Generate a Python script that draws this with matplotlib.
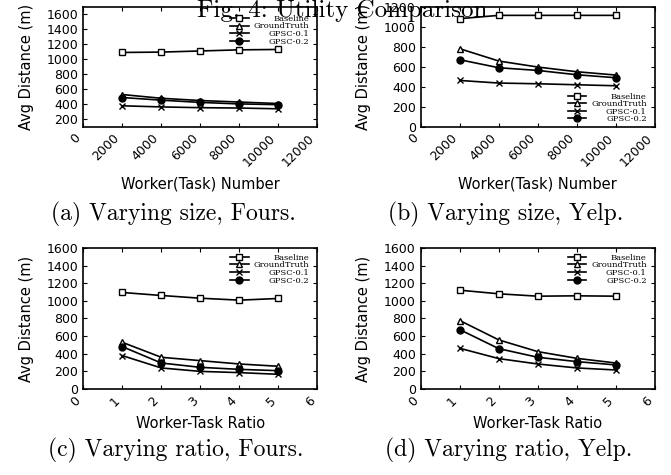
import matplotlib
matplotlib.use('Agg')
import matplotlib.pyplot as plt

# Data
sizes = [2000, 4000, 6000, 8000, 10000]
ratios = [1, 2, 3, 4, 5]
series_names = ['Baseline', 'GroundTruth', 'GPSC-0.1', 'GPSC-0.2']

# (a) varying size, Fours
a_baseline = [1090, 1095, 1110, 1125, 1130]
a_truth = [530, 480, 450, 430, 410]
a_gpsc01 = [380, 365, 355, 350, 340]
a_gpsc02 = [490, 455, 425, 405, 395]

# (b) varying size, Yelp
b_baseline = [1080, 1113, 1113, 1113, 1113]
b_truth = [780, 657, 597, 550, 517]
b_gpsc01 = [463, 437, 430, 420, 410]
b_gpsc02 = [670, 590, 563, 520, 490]

# (c) varying ratio, Fours
c_baseline = [1095, 1061, 1030, 1008, 1027]
c_truth = [530, 360, 322, 284, 258]
c_gpsc01 = [379, 239, 200, 186, 167]
c_gpsc02 = [481, 295, 246, 223, 208]

# (d) varying ratio, Yelp
d_baseline = [1121, 1080, 1053, 1057, 1053]
d_truth = [777, 557, 424, 348, 295]
d_gpsc01 = [462, 345, 284, 239, 216]
d_gpsc02 = [674, 458, 360, 311, 273]

size_ticks = [0, 2000, 4000, 6000, 8000, 10000, 12000]
ratio_ticks = [0, 1, 2, 3, 4, 5, 6]
a_yticks = [200, 400, 600, 800, 1000, 1200, 1400, 1600]
b_yticks = [0, 200, 400, 600, 800, 1000, 1200]
cd_yticks = [0, 200, 400, 600, 800, 1000, 1200, 1400, 1600]

captions = ['(a) Varying size, Fours.', '(b) Varying size, Yelp.',
            '(c) Varying ratio, Fours.', '(d) Varying ratio, Yelp.']

markers = [dict(marker='s', mfc='white'), dict(marker='^', mfc='white'),
           dict(marker='x'), dict(marker='o', mfc='black')]

fig = plt.figure(figsize=(6.71, 4.75), dpi=100)

panels = [
    ([0.124, 0.733, 0.349, 0.253], sizes, [a_baseline, a_truth, a_gpsc01, a_gpsc02],
     size_ticks, a_yticks, (0, 12000), (100, 1700), 'Worker(Task) Number', 'upper right', (0.99, 0.98)),
    ([0.627, 0.733, 0.349, 0.253], sizes, [b_baseline, b_truth, b_gpsc01, b_gpsc02],
     size_ticks, b_yticks, (0, 12000), (0, 1200), 'Worker(Task) Number', 'lower right', (0.99, -0.02)),
    ([0.124, 0.181, 0.349, 0.297], ratios, [c_baseline, c_truth, c_gpsc01, c_gpsc02],
     ratio_ticks, cd_yticks, (0, 6), (0, 1600), 'Worker-Task Ratio', 'upper right', (0.99, 1.0)),
    ([0.627, 0.181, 0.349, 0.297], ratios, [d_baseline, d_truth, d_gpsc01, d_gpsc02],
     ratio_ticks, cd_yticks, (0, 6), (0, 1600), 'Worker-Task Ratio', 'upper right', (0.99, 1.0)),
]

renderer = fig.canvas.get_renderer()
for rect, xs, ys, xticks, yticks, xlim, ylim, xlabel, loc, anchor in panels:
    ax = fig.add_axes(rect)
    for name, vals, mk in zip(series_names, ys, markers):
        ax.plot(xs, vals, color='black', linewidth=1.2, markersize=5,
                mec='black', mew=1.0, label=name, **mk)
    ax.set_xlim(*xlim)
    ax.set_ylim(*ylim)
    ax.set_xticks(xticks)
    ax.set_yticks(yticks)
    ax.tick_params(direction='in', top=True, right=True, labelsize=9, length=3)
    plt.setp(ax.get_xticklabels(), rotation=45, ha='right')
    ax.set_xlabel(xlabel, fontsize=10.5, labelpad=5)
    ax.set_ylabel('Avg Distance (m)', fontsize=10.5, labelpad=9)
    for sp in ax.spines.values():
        sp.set_linewidth(1.2)
    leg = ax.legend(loc=loc, bbox_to_anchor=anchor, frameon=False,
                    prop={'family': 'DejaVu Serif', 'size': 6},
                    labelspacing=-0.05, handlelength=2.2, handletextpad=0.6,
                    borderpad=0.2)
    # right-align legend labels by shifting shorter ones
    texts = leg.get_texts()
    widths = [t.get_window_extent(renderer).width for t in texts]
    widest = max(widths)
    for t, w in zip(texts, widths):
        t.set_position((widest - w, 0))

fig.text(0.51, 0.978, 'Fig. 4: Utility Comparison', ha='center', va='center',
         family='cmr10', fontsize=18)
cap_pos = [(0.258, 0.548), (0.754, 0.548), (0.262, 0.052), (0.758, 0.052)]
for (cx, cy), cap in zip(cap_pos, captions):
    fig.text(cx, cy, cap, ha='center', va='center', family='cmr10', fontsize=17)

fig.savefig('out.png', dpi=100)
